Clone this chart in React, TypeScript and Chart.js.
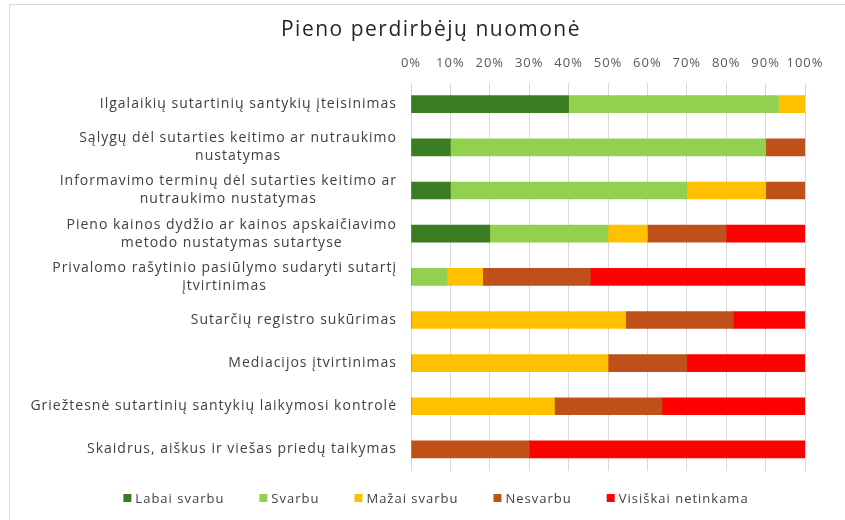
import React, { useEffect, useRef } from "react";
import { Chart, registerables } from "chart.js";

Chart.register(...registerables);

const title = "Pieno perdirbėjų nuomonė";

const categories: string[][] = [
  ["Ilgalaikių sutartinių santykių įteisinimas"],
  ["Sąlygų dėl sutarties keitimo ar nutraukimo", "nustatymas"],
  ["Informavimo terminų dėl sutarties keitimo ar", "nutraukimo nustatymas"],
  ["Pieno kainos dydžio ar kainos apskaičiavimo", "metodo nustatymas sutartyse"],
  ["Privalomo rašytinio pasiūlymo sudaryti sutartį", "įtvirtinimas"],
  ["Sutarčių registro sukūrimas"],
  ["Mediacijos įtvirtinimas"],
  ["Griežtesnė sutartinių santykių laikymosi kontrolė"],
  ["Skaidrus, aiškus ir viešas priedų taikymas"],
];

const seriesNames = ["Labai svarbu", "Svarbu", "Mažai svarbu", "Nesvarbu", "Visiškai netinkama"];
const labaiSvarbu = [40, 10, 10, 20, 0, 0, 0, 0, 0];
const svarbu = [53.3, 80, 60, 30, 9.1, 0, 0, 0, 0];
const mazaiSvarbu = [6.7, 0, 20, 10, 9.1, 54.5, 50, 36.4, 0];
const nesvarbu = [0, 10, 10, 20, 27.3, 27.3, 20, 27.3, 30];
const visiskaiNetinkama = [0, 0, 0, 20, 54.5, 18.2, 30, 36.4, 70];
const seriesColors = ["#3a7d22", "#92d050", "#ffc000", "#c0501a", "#ff0000"];
const xTicks = [0, 10, 20, 30, 40, 50, 60, 70, 80, 90, 100];

const FONT = "'Open Sans', 'Noto Sans', sans-serif";

const spacingPlugin = {
  id: "spacing",
  beforeLayout(chart: any) {
    chart.ctx.letterSpacing = "1px";
  },
  beforeDraw(chart: any) {
    chart.ctx.letterSpacing = "1px";
  },
};

const decorPlugin = {
  id: "decor",
  afterDraw(chart: any) {
    const ctx = chart.ctx;
    const yScale = chart.scales.y;
    const right = chart.chartArea.left - 14;
    ctx.save();
    // category labels
    ctx.letterSpacing = "1px";
    ctx.font = `14px ${FONT}`;
    ctx.fillStyle = "#404040";
    ctx.textAlign = "center";
    ctx.textBaseline = "middle";
    const lh = 18;
    categories.forEach((lines, i) => {
      const cy = yScale.getPixelForValue(i);
      const maxW = Math.max(...lines.map((l) => ctx.measureText(l).width));
      const cx = right - maxW / 2;
      const y0 = cy - ((lines.length - 1) * lh) / 2;
      lines.forEach((l, k) => ctx.fillText(l, cx, y0 + k * lh));
    });
    // title
    ctx.letterSpacing = "1.5px";
    ctx.font = `21px ${FONT}`;
    ctx.fillStyle = "#262626";
    ctx.fillText(title, 431, 30);
    // legend
    ctx.letterSpacing = "1px";
    ctx.font = `13px ${FONT}`;
    ctx.textAlign = "left";
    const box = 8;
    const gapText = 4;
    const gapItem = 35;
    const widths = seriesNames.map((n) => box + gapText + ctx.measureText(n).width);
    const total = widths.reduce((a, b) => a + b, 0) + gapItem * (seriesNames.length - 1);
    let x = 436 - total / 2;
    const ly = 498;
    seriesNames.forEach((n, i) => {
      ctx.fillStyle = seriesColors[i];
      ctx.fillRect(x, ly - box / 2, box, box);
      ctx.fillStyle = "#404040";
      ctx.fillText(n, x + box + gapText, ly + 1);
      x += widths[i] + gapItem;
    });
    ctx.restore();
  },
};

export default function App() {
  const ref = useRef<HTMLCanvasElement>(null);
  useEffect(() => {
    if (!ref.current) return;
    const values = [labaiSvarbu, svarbu, mazaiSvarbu, nesvarbu, visiskaiNetinkama];
    const chart = new Chart(ref.current, {
      type: "bar",
      data: {
        labels: categories.map((c) => c.join(" ")),
        datasets: seriesNames.map((name, i) => ({
          label: name,
          data: values[i],
          backgroundColor: seriesColors[i],
          borderWidth: 0,
          barThickness: 17,
        })),
      },
      plugins: [spacingPlugin, decorPlugin],
      options: {
        indexAxis: "y",
        animation: false,
        responsive: false,
        layout: { padding: { left: 0, right: 40, top: 43, bottom: 49 } },
        scales: {
          x: {
            position: "top",
            stacked: true,
            min: 0,
            max: 100,
            afterBuildTicks: (axis: any) => {
              axis.ticks = xTicks.map((v) => ({ value: v }));
            },
            ticks: {
              callback: (v: any) => v + "%",
              color: "#595959",
              font: { family: FONT, size: 13 },
              padding: 12,
              maxRotation: 0,
              autoSkip: false,
            },
            grid: { color: "#d9d9d9", drawTicks: false },
            border: { display: false },
          },
          y: {
            stacked: true,
            display: true,
            ticks: { display: false },
            grid: { display: false },
            border: { display: false },
            afterFit: (axis: any) => {
              axis.width = 411;
            },
          },
        },
        plugins: {
          title: { display: false },
          legend: { display: false },
          tooltip: { enabled: false },
        },
      },
    });
    return () => chart.destroy();
  }, []);
  return (
    <div style={{ position: "fixed", left: 0, top: 0, width: 845, height: 520, background: "#fff" }}>
      <div
        style={{
          position: "absolute",
          left: 9,
          top: 4,
          width: 860,
          height: 540,
          borderLeft: "1px solid #d9d9d9",
          borderTop: "1px solid #d9d9d9",
        }}
      />
      <canvas ref={ref} width={845} height={520} style={{ position: "absolute", left: 0, top: 0 }} />
    </div>
  );
}
